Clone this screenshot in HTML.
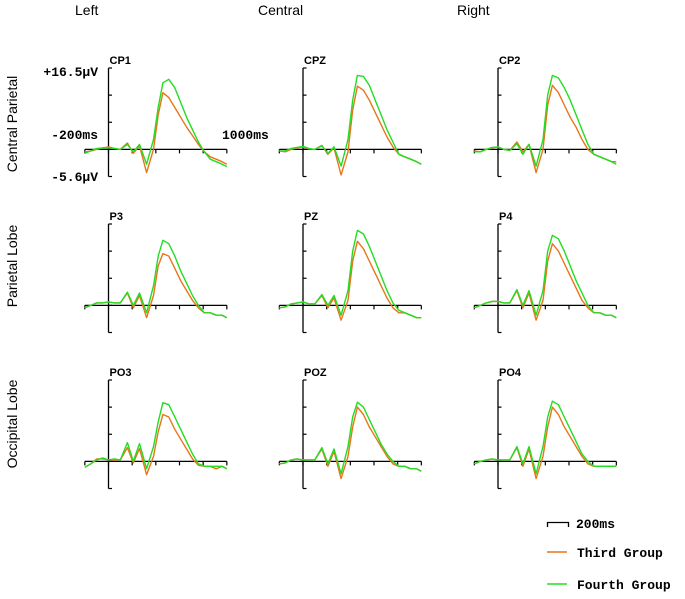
<!DOCTYPE html>
<html><head><meta charset="utf-8"><style>
body{margin:0;background:#fff;width:685px;height:594px;overflow:hidden}
svg text{font-family:"Liberation Sans",sans-serif}
.mono{font-family:"Liberation Mono",monospace;font-weight:bold;font-size:13px}
</style></head><body>
<svg id="chart" width="685" height="594" viewBox="0 0 685 594" xmlns="http://www.w3.org/2000/svg">
<text x="75" y="15" font-size="14">Left</text>
<text x="258" y="15" font-size="14">Central</text>
<text x="457" y="15" font-size="14">Right</text>
<text transform="translate(17,124) rotate(-90)" text-anchor="middle" font-size="14">Central Parietal</text>
<text transform="translate(17,266) rotate(-90)" text-anchor="middle" font-size="14">Parietal Lobe</text>
<text transform="translate(17,424) rotate(-90)" text-anchor="middle" font-size="14">Occipital Lobe</text>
<text class="mono" x="98" y="76" text-anchor="end">+16.5μV</text>
<text class="mono" x="98" y="139" text-anchor="end">-200ms</text>
<text class="mono" x="222" y="139">1000ms</text>
<text class="mono" x="98" y="181" text-anchor="end">-5.6μV</text>
<g>
<path d="M547.5,527 V522.5 H568.5 V527" fill="none" stroke="#000" stroke-width="1.3"/>
<text class="mono" x="576" y="528">200ms</text>
<line x1="547" y1="552" x2="567" y2="552" stroke="#e8751a" stroke-width="1.5"/>
<text class="mono" x="577" y="557">Third Group</text>
<line x1="547" y1="584" x2="567" y2="584" stroke="#22dd22" stroke-width="1.5"/>
<text class="mono" x="577" y="589">Fourth Group</text>
</g>
</svg>
<script>
const times=[-200,-150,-100,-50,0,50,100,160,210,262,322,380,420,460,510,560,610,660,710,760,810,860,910,960,1000];
const channels=["CP1","CPZ","CP2","P3","PZ","P4","PO3","POZ","PO4"];
const yTicks=[-5.5,0,5.5,11,16.5];
const xTicks=[-200,0,200,400,600,800,1000];
const thirdCP1=[-0.5,-0.3,0,0.3,0.5,0.2,0,1.3,-0.8,0.7,-4.7,0,7,11.5,10.5,8.5,6.5,4.5,2.8,1,-0.5,-1.5,-2,-2.5,-3];
const fourthCP1=[-0.8,-0.3,0.2,0.3,0.3,0.2,0,1,-0.5,1,-3,2,8.5,13.5,14.2,12.5,9.5,6.5,4,1.5,-0.5,-2,-2.5,-3,-3.5];
const thirdCPZ=[-0.3,-0.5,0,0.3,0.5,0.1,0,0.8,-1,0.3,-5.2,-0.5,8,12.8,12,10,7.5,5,2.5,0.5,-1,-1.5,-2,-2.5,-3];
const fourthCPZ=[-0.3,-0.3,0.2,0.4,0.6,0.2,0,0.7,-0.8,0.5,-3.4,2,10,15,14.8,13,10,7,4,1.5,-1,-1.5,-2,-2.5,-3];
const thirdCP2=[-0.3,-0.5,0,0.3,0.5,0,-0.2,1.5,-0.5,1,-4.7,0,9,13,11.5,9,6.5,4.5,2,0,-1,-1.5,-2,-2.5,-2.5];
const fourthCP2=[-0.5,-0.5,0,0.4,0.5,0,-0.2,1.2,-1,1,-3.4,2,11,15,14.5,12.5,10,7,4,1,-1,-1.5,-2,-2.5,-3];
const thirdP3=[-0.5,0,0.5,0.5,0.7,0.5,0.5,2.5,-0.5,2,-2.5,2,8,10.5,10,7.5,5,3,1,-0.5,-1.5,-1.5,-2,-2,-2.5];
const fourthP3=[-0.5,0,0.5,0.5,0.7,0.5,0.5,2.7,0,2.5,-1.5,4,10,13.2,12.5,10,7,4.5,2,0,-1.5,-1.5,-2,-2,-2.5];
const thirdPZ=[-0.5,-0.3,0.3,0.5,0.7,0.3,0.3,2,-0.5,1.5,-3,1,9,13,11.5,9,6.5,4,1.5,-0.5,-1.5,-1.5,-2,-2.5,-2.5];
const fourthPZ=[-0.5,-0.3,0.3,0.5,0.7,0.3,0.3,2.2,0,2,-2,3,11,15.2,14.5,12,9,6,3,0.5,-1,-1.5,-2,-2.5,-2.5];
const thirdP4=[-0.5,0,0.5,0.8,0.8,0.5,0.5,3,-0.5,2.5,-3,1,9,12.5,11,8.5,6,3.5,1,-0.5,-1.5,-1.5,-2,-2,-2.5];
const fourthP4=[-0.5,0,0.5,0.8,0.8,0.5,0.5,3.2,0,3,-2,3,11,14.2,13.5,11,8,5,2.5,0,-1.5,-1.5,-2,-2,-2.5];
const thirdPO3=[-1.2,-0.5,0.5,0.5,0.3,0.3,0.3,2.8,-0.3,2.6,-2.7,1,6,9.5,9,6.5,4.5,2.5,0.5,-0.8,-1,-1,-1.5,-1,-1.5];
const fourthPO3=[-1.2,-0.5,0.3,0.7,0.3,0.5,0.3,3.8,0,3.6,-1.5,3,8,11.9,11.5,9,6.5,4,1.5,-0.5,-1,-1,-1,-1,-1.5];
const thirdPOZ=[-0.5,-0.3,0.3,0.5,0.3,0.3,0.3,2.5,-1,2,-3.5,1,7,11,9.5,7,5,3,1,-0.5,-1,-1,-1.5,-1.5,-2];
const fourthPOZ=[-0.5,-0.3,0.3,0.5,0.3,0.3,0.3,2.8,-0.5,2.5,-2.5,3,9,12,11,8.5,6,3.5,1.5,0,-1,-1,-1.5,-1.5,-2];
const thirdPO4=[-0.5,0,0.3,0.5,0.3,0.3,0.3,2.8,-1,2.5,-3.5,1,7,11,9.5,7,5,3,1,-0.5,-1,-1,-1,-1,-1];
const fourthPO4=[-0.5,0,0.3,0.5,0.3,0.3,0.3,3,-0.5,3,-2.5,3,9,12.2,11.5,9,6.5,4,1.5,0,-1,-1,-1,-1,-1];
const thirdSeries=[thirdCP1,thirdCPZ,thirdCP2,thirdP3,thirdPZ,thirdP4,thirdPO3,thirdPOZ,thirdPO4];
const fourthSeries=[fourthCP1,fourthCPZ,fourthCP2,fourthP3,fourthPZ,fourthP4,fourthPO3,fourthPOZ,fourthPO4];

const NS="http://www.w3.org/2000/svg";
const svg=document.getElementById("chart");
const colX=[108.5,303,498], rowTop=[68,224,380];
const pxPerMs=142/1200, pxPerUv=109/22.1;
function mk(tag,attrs,parent){const e=document.createElementNS(NS,tag);for(const k in attrs)e.setAttribute(k,attrs[k]);parent.appendChild(e);return e;}
for(let i=0;i<9;i++){
  const ax=colX[i%3], top=rowTop[Math.floor(i/3)];
  const zeroY=top+16.5*pxPerUv;
  const xs=t=>ax+t*pxPerMs, ys=v=>zeroY-v*pxPerUv;
  const g=mk("g",{},svg);
  
  
  const lab=mk("text",{x:ax+1,y:top-4,"font-size":"11","font-weight":"bold"},g);
  lab.textContent=channels[i];
  
  
  const ya=mk("line",{x1:ax,y1:ys(16.5),x2:ax,y2:ys(-5.5),stroke:"#000","stroke-width":"1.3"},g);
  
  
  yTicks.forEach(v=>{const t=mk("line",{x1:ax,y1:ys(v),x2:ax+3.5,y2:ys(v),stroke:"#000","stroke-width":"1.2"},g);
    
    });
  const xa=mk("line",{x1:xs(-200),y1:zeroY,x2:xs(1000),y2:zeroY,stroke:"#000","stroke-width":"1.3"},g);
  
  
  xTicks.forEach(t=>{const l=mk("line",{x1:xs(t),y1:zeroY,x2:xs(t),y2:zeroY+4,stroke:"#000","stroke-width":"1.2"},g);
    
    });
  [[thirdSeries[i],"#e8751a","third-group-line"],[fourthSeries[i],"#22dd22","fourth-group-line"]].forEach(([d,c,n])=>{
    const pts=d.map((v,j)=>xs(times[j]).toFixed(1)+","+ys(v).toFixed(1)).join(" ");
    const p=mk("polyline",{points:pts,fill:"none",stroke:c,"stroke-width":"1.4","stroke-linejoin":"round"},g);
    
    
  });
}
</script>
</body></html>
